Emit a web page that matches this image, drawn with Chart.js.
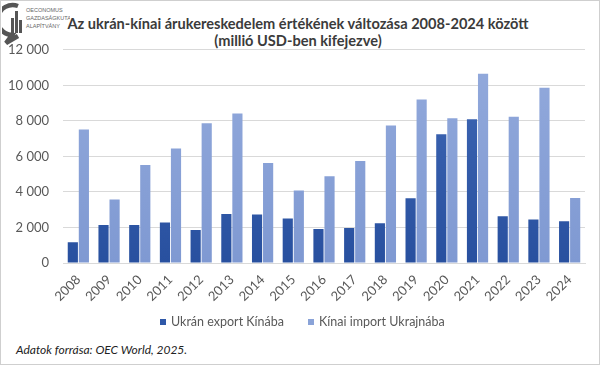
<!DOCTYPE html>
<html>
<head>
<meta charset="utf-8">
<script src="https://cdn.jsdelivr.net/npm/chart.js@4"></script>
<style>
  body { margin: 0; background: #fff; }
  #wrap { position: relative; width: 598px; height: 363px; border: 1px solid #cfcfcf; background: #fff; overflow: hidden; font-family: Lato, "Open Sans", sans-serif; }
  #title { position: absolute; left: 0; width: 594px; top: 15px; text-align: center; font-weight: bold; font-size: 14.6px; line-height: 16.5px; color: #3b3b3b; }
  #logo { position: absolute; left: 1px; top: 1px; }
  #chartBox { position: absolute; left: 0; top: 27px; width: 598px; height: 291px; }
  .lg { position: absolute; top: 313px; font-size: 12.5px; color: #595959; white-space: nowrap; }
  .lg span { display: inline-block; width: 6px; height: 6px; margin-right: 5px; vertical-align: 1px; }
  #source { position: absolute; left: 15px; top: 341px; font-size: 12px; font-style: italic; color: #222; }
</style>
</head>
<body>
<div id="wrap">
  <svg id="logo" width="68" height="44" viewBox="0 0 68 44">
    <path d="M16 4 A15 15 0 1 0 10 33 L4 41 L16 34" fill="none" stroke="#555" stroke-width="4.5"/>
    <rect x="9" y="16" width="3" height="15" fill="#555"/>
    <rect x="13" y="9" width="3" height="22" fill="#555"/>
    <rect x="17" y="18" width="3" height="13" fill="#555"/>
    <text x="24" y="10" font-size="5.5" fill="#666" font-family="Liberation Sans">OECONOMUS</text>
    <text x="24" y="18" font-size="5.5" fill="#666" font-family="Liberation Sans">GAZDASÁGKUTATÓ</text>
    <text x="24" y="26" font-size="5.5" fill="#666" font-family="Liberation Sans">ALAPÍTVÁNY</text>
  </svg>
  <div id="title">Az ukrán-kínai árukereskedelem értékének változása 2008-2024 között<br>(millió USD-ben kifejezve)</div>
  <div id="chartBox"><canvas id="chart"></canvas></div>
  <div class="lg" id="lg0" style="left:159px"></div>
  <div class="lg" id="lg1" style="left:307px"></div>
  <div id="source">Adatok forrása: OEC World, 2025.</div>
</div>
<script>
const years = ["2008", "2009", "2010", "2011", "2012", "2013", "2014", "2015", "2016", "2017", "2018", "2019", "2020", "2021", "2022", "2023", "2024"];
const exportToChina = [1170, 2140, 2140, 2275, 1860, 2760, 2725, 2500, 1915, 1970, 2235, 3645, 7250, 8095, 2630, 2445, 2350];
const importFromChina = [7520, 3570, 5520, 6445, 7870, 8415, 5635, 4080, 4885, 5745, 7740, 9205, 8150, 10650, 8225, 9860, 3660];
const seriesNames = ["Ukrán export Kínába", "Kínai import Ukrajnába"];

function fmt(v) {
  return String(v).replace(/\B(?=(\d{3})+(?!\d))/g, " ");
}

function grad(top, bottom) {
  return (ctx) => {
    const area = ctx.chart.chartArea;
    if (!area) return bottom;
    const g = ctx.chart.ctx.createLinearGradient(0, area.top, 0, area.bottom);
    g.addColorStop(0, top);
    g.addColorStop(1, bottom);
    return g;
  };
}

const swatch = ["#2f58a8", "#8aa3d8"];
seriesNames.forEach((n, i) => {
  document.getElementById("lg" + i).innerHTML = '<span style="background:' + swatch[i] + '"></span>' + n;
});

new Chart(document.getElementById("chart"), {
  type: "bar",
  data: {
    labels: years,
    datasets: [
      {
        label: seriesNames[0],
        data: exportToChina,
        backgroundColor: grad("#4169b6", "#28509f"),
        categoryPercentage: 0.72,
        barPercentage: 0.92
      },
      {
        label: seriesNames[1],
        data: importFromChina,
        backgroundColor: grad("#93aadc", "#7f99d2"),
        categoryPercentage: 0.72,
        barPercentage: 0.92
      }
    ]
  },
  options: {
    responsive: true,
    maintainAspectRatio: false,
    animation: false,
    layout: { padding: { top: 11, right: 14, bottom: 0, left: 0 } },
    plugins: {
      legend: { display: false },
      tooltip: { enabled: false }
    },
    scales: {
      x: {
        grid: { display: false, drawTicks: false },
        border: { color: "#d9d9d9" },
        ticks: {
          color: "#595959",
          font: { family: "Lato", size: 13 },
          minRotation: 45,
          maxRotation: 45,
          padding: 9
        },
        afterFit: (s) => { s.height = 56; }
      },
      y: {
        min: 0,
        max: 12000,
        grid: { color: "#d9d9d9", drawTicks: false },
        border: { display: false },
        ticks: {
          stepSize: 2000,
          color: "#595959",
          font: { family: "Lato", size: 13 },
          padding: 14,
          callback: (v) => fmt(v)
        },
        afterFit: (s) => { s.width = 62; }
      }
    }
  }
});
</script>
</body>
</html>
